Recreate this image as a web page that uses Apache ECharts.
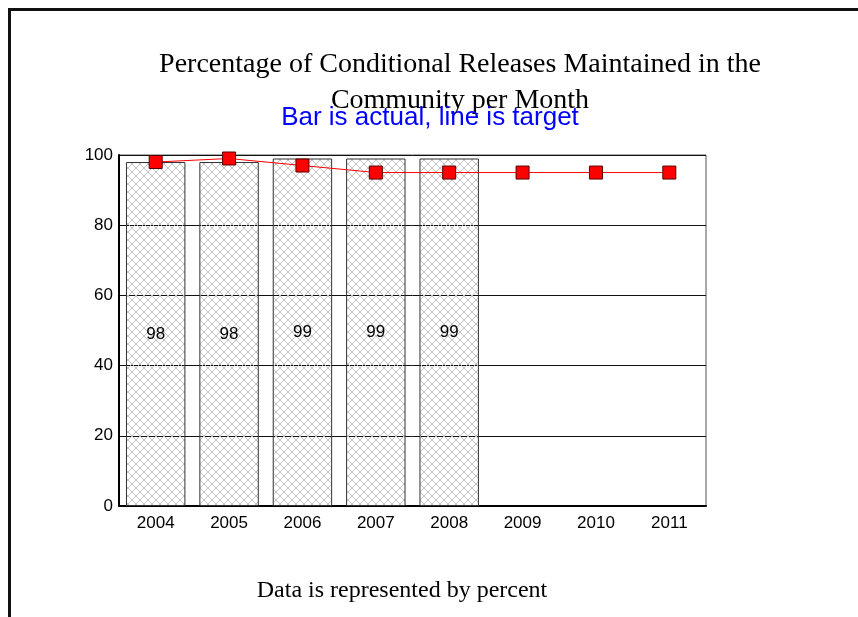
<!DOCTYPE html>
<html>
<head>
<meta charset="utf-8">
<style>
  html, body { margin: 0; padding: 0; background: #fff; }
  #chart { width: 858px; height: 617px; }
</style>
<script src="https://cdn.jsdelivr.net/npm/echarts@6/dist/echarts.min.js"></script>
</head>
<body>
<div id="chart"></div>
<script>
// Years shown on the category axis
const years = ['2004', '2005', '2006', '2007', '2008', '2009', '2010', '2011'];
// Actual percentage maintained (bars)
const actual = [98, 98, 99, 99, 99, null, null, null];
// Target percentage (line)
const target = [98, 99, 97, 95, 95, 95, 95, 95];
// Value-axis ticks
const yMin = 0, yMax = 100, yStep = 20;

// Diamond cross-hatch fill for the bars
function hatchPattern() {
  const c = document.createElement('canvas');
  c.width = 8; c.height = 8;
  const g = c.getContext('2d');
  g.strokeStyle = '#c4c4c4';
  g.lineWidth = 1;
  g.beginPath();
  g.moveTo(0, 0); g.lineTo(8, 8);
  g.moveTo(8, 0); g.lineTo(0, 8);
  g.stroke();
  return c;
}

const chart = echarts.init(document.getElementById('chart'), null, { renderer: 'canvas' });

chart.setOption({
  animation: false,
  backgroundColor: '#ffffff',
  grid: {
    left: 119, right: 152, top: 155, bottom: 111,
    show: true, borderColor: '#555', borderWidth: 1, backgroundColor: 'transparent'
  },
  graphic: [
    { type: 'rect', shape: { x: 8, y: 8, width: 860, height: 3 }, style: { fill: '#111' }, silent: true },
    { type: 'rect', shape: { x: 8, y: 8, width: 3, height: 620 }, style: { fill: '#111' }, silent: true },
    {
      type: 'text', x: 460, y: 47,
      style: {
        text: 'Percentage of Conditional Releases Maintained in the\nCommunity per Month',
        fontFamily: 'Liberation Serif', fontSize: 28, lineHeight: 36,
        fill: '#000', align: 'center'
      }
    },
    {
      type: 'text', x: 430, y: 105,
      style: {
        text: 'Bar is actual, line is target',
        fontFamily: 'Liberation Sans', fontSize: 26, fill: '#0000ff', align: 'center'
      }
    },
    {
      type: 'text', x: 402, y: 579,
      style: {
        text: 'Data is represented by percent',
        fontFamily: 'Liberation Serif', fontSize: 24, fill: '#000', align: 'center'
      }
    }
  ],
  xAxis: {
    type: 'category',
    data: years,
    axisLine: { lineStyle: { color: '#000', width: 2 } },
    axisTick: { show: false },
    axisLabel: { color: '#000', fontFamily: 'Liberation Sans', fontSize: 17, margin: 9 }
  },
  yAxis: {
    type: 'value',
    min: yMin, max: yMax, interval: yStep,
    axisLine: { show: true, lineStyle: { color: '#000', width: 2 } },
    axisTick: { show: false },
    axisLabel: { color: '#000', fontFamily: 'Liberation Sans', fontSize: 17, margin: 6 },
    splitLine: { show: true, lineStyle: { color: '#111', width: 1 } }
  },
  series: [
    {
      type: 'bar',
      data: actual,
      barWidth: '81%',
      itemStyle: {
        color: { image: hatchPattern(), repeat: 'repeat' },
        borderColor: '#333',
        borderWidth: 1
      },
      label: {
        show: true, position: 'inside',
        color: '#000', fontFamily: 'Liberation Sans', fontSize: 17
      },
      z: 2
    },
    {
      type: 'line',
      data: target,
      symbol: 'rect',
      symbolSize: 13,
      lineStyle: { color: '#ff0000', width: 1 },
      itemStyle: { color: '#ff0000', borderColor: '#550000', borderWidth: 1 },
      z: 5
    }
  ]
});
</script>
</body>
</html>
